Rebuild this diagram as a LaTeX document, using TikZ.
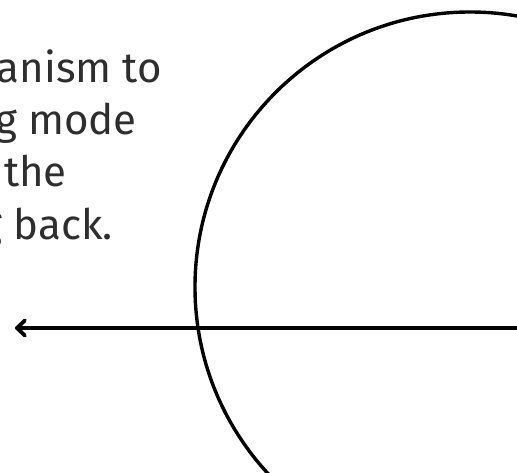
\documentclass[tikz,border=0pt]{standalone}
\usepackage{fontspec}
\setmainfont{Fira Sans}
\usetikzlibrary{positioning, arrows.meta}

\begin{document}
\begin{tikzpicture}[x=1pt, y=-1pt,
    txt/.style={anchor=base east, inner sep=0pt, text=black!82, font=\fontsize{42}{50}\selectfont},
    rim/.style={line width=3.4pt},
    ray/.style={line width=3.8pt, line cap=round, -{Straight Barb[length=8pt, width=15pt, line cap=round, line join=round]}}]
    % Frame of the picture
    \useasboundingbox (0,0) rectangle (517,473);
    \clip (0,0) rectangle (517,473);

    % Text lines (cut off on the left)
    \node[txt] (l1) at (162,83) {ganism to};
    \node[txt] (l2) at (137,135) {g mode};
    \node[txt] (l3) at (67,187) {the};
    \node[txt] (l4) at (113,240) {g back.};

    % Big circle
    \coordinate (c) at (470,287);
    \draw[rim] (c) circle[radius=275pt];

    % Arrow pointing left
    \coordinate (start) at (530,328);
    \coordinate (tip) at (15,328);
    \draw[ray] (start) -- (tip);
\end{tikzpicture}
\end{document}
